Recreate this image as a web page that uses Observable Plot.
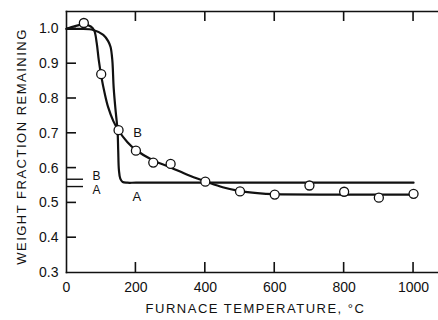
<!DOCTYPE html>
<html>
<head>
<meta charset="utf-8">
<script src="https://cdn.jsdelivr.net/npm/d3@7"></script>
<script src="https://cdn.jsdelivr.net/npm/@observablehq/plot@0.6"></script>
<style>
  html, body { margin: 0; padding: 0; background: #fff; }
  #chart svg { display: block; }
</style>
</head>
<body>
<div id="chart"></div>
<script>
// Curve A: stays near 1.0, then drops sharply to a plateau
const tempA = [0, 40, 77, 106, 120, 127, 132, 136, 142, 147, 149, 151, 155, 162, 175, 200, 400, 700, 1000];
const fracA = [1.0, 1.0, 0.997, 0.983, 0.965, 0.948, 0.91, 0.83, 0.76, 0.71, 0.65, 0.595, 0.57, 0.56, 0.558, 0.558, 0.558, 0.558, 0.558];

// Curve B: smooth fit through the measured points
const tempB = [0, 25, 50, 70, 80, 87, 93, 100, 110, 120, 135, 150, 175, 200, 250, 300, 350, 400, 450, 500, 550, 600, 800, 1000];
const fracB = [1.0, 1.008, 1.013, 1.007, 0.995, 0.96, 0.91, 0.865, 0.815, 0.775, 0.735, 0.708, 0.675, 0.652, 0.622, 0.602, 0.58, 0.562, 0.545, 0.534, 0.528, 0.525, 0.524, 0.524];

// Measured points (open circles)
const tempObs = [50, 100, 150, 200, 250, 300, 400, 500, 600, 700, 800, 900, 1000];
const fracObs = [1.017, 0.87, 0.709, 0.65, 0.616, 0.612, 0.561, 0.533, 0.524, 0.55, 0.532, 0.515, 0.526];

// Reference levels marked on the left axis
const refNames = ["B", "A"];
const refValues = [0.568, 0.547];

const xTicks = [0, 200, 400, 600, 800, 1000];
const xInnerTicks = [200, 400, 600, 800, 1000];
const yTicks = [0.3, 0.4, 0.5, 0.6, 0.7, 0.8, 0.9, 1.0];
const yInnerTicks = [0.4, 0.5, 0.6, 0.7, 0.8, 0.9, 1.0];

const xTitle = "FURNACE TEMPERATURE, °C";
const yTitle = "WEIGHT FRACTION REMAINING";

const curveA = tempA.map((t, i) => ({t, w: fracA[i]}));
const curveB = tempB.map((t, i) => ({t, w: fracB[i]}));
const observed = tempObs.map((t, i) => ({t, w: fracObs[i]}));
const refs = refNames.map((name, i) => ({name, w: refValues[i]}));

const width = 438, height = 320;
const margin = {left: 66, right: 1, top: 11, bottom: 48};
const frameW = width - margin.left - margin.right;
const xDomain = [0, 1069];
const yDomain = [0.3, 1.05];
const ink = "#111";
const tickLen = 10, refLen = 17;
const edgeStyle = {stroke: ink, strokeWidth: 1.6};

const chart = Plot.plot({
  width, height,
  marginLeft: margin.left, marginRight: margin.right,
  marginTop: margin.top, marginBottom: margin.bottom,
  style: {fontFamily: "'Liberation Sans', Arial, sans-serif", fontSize: "14px"},
  x: {domain: xDomain},
  y: {domain: yDomain},
  marks: [
    // box edges: top, bottom and left only
    Plot.frame({anchor: "top", ...edgeStyle}),
    Plot.frame({anchor: "bottom", ...edgeStyle}),
    Plot.frame({anchor: "left", ...edgeStyle}),
    // tick labels
    Plot.axisX(xTicks, {anchor: "bottom", tickSize: 0, tickPadding: 10, tickFormat: d => String(d), fill: ink, label: null}),
    Plot.axisY(yTicks, {anchor: "left", tickSize: 0, tickPadding: 8, tickFormat: d3.format(".1f"), fill: ink, label: null}),
    // reference levels on the left axis
    Plot.tickY(refs, {y: "w", insetRight: frameW - refLen, stroke: ink, strokeWidth: 1.4}),
    Plot.text(refs.filter(d => d.name === "B"), {frameAnchor: "left", y: "w", text: "name", dx: 26, dy: -3, fill: ink, fontSize: 12}),
    Plot.text(refs.filter(d => d.name === "A"), {frameAnchor: "left", y: "w", text: "name", dx: 26, dy: 4, fill: ink, fontSize: 12}),
    // curves
    Plot.line(curveA, {x: "t", y: "w", curve: "catmull-rom", stroke: ink, strokeWidth: 2.2}),
    Plot.line(curveB, {x: "t", y: "w", curve: "catmull-rom", stroke: ink, strokeWidth: 2.2}),
    Plot.dot(observed, {x: "t", y: "w", r: 4.5, fill: "#fff", stroke: ink, strokeWidth: 1.3}),
    // curve labels
    Plot.text(curveA.filter(d => d.t === 200), {x: "t", y: "w", text: () => "A", dx: 1, dy: 14, fill: ink, fontSize: 13}),
    Plot.text(observed.filter(d => d.t === 150), {x: "t", y: "w", text: () => "B", dx: 19, dy: 3, fill: ink, fontSize: 13}),
    // axis titles
    Plot.text([xTitle], {frameAnchor: "bottom", dx: 3.5, dy: 40, text: d => d, fill: ink, fontSize: 13}),
    Plot.text([yTitle], {frameAnchor: "left", dx: -45, dy: 4.5, rotate: -90, textAnchor: "middle", text: d => d, fill: ink, fontSize: 13})
  ]
});

// widen letter spacing of the two axis titles
d3.select(chart).selectAll("text")
  .filter(function() { return this.textContent === xTitle || this.textContent === yTitle; })
  .style("letter-spacing", "1.5px");

// inward ticks on bottom, top and left edges, placed with the plot's own scales
const sx = chart.scale("x"), sy = chart.scale("y");
const x0 = sx.apply(xDomain[0]);
const yBottom = sy.apply(yDomain[0]), yTop = sy.apply(yDomain[1]);
const tickLayer = d3.select(chart).append("g")
  .attr("aria-label", "inner ticks")
  .attr("stroke", ink).attr("stroke-width", 1.6).attr("stroke-linecap", "butt");
tickLayer.selectAll("line.b").data(xInnerTicks).join("line").attr("class", "b")
  .attr("x1", d => sx.apply(d)).attr("x2", d => sx.apply(d))
  .attr("y1", yBottom).attr("y2", yBottom - tickLen);
tickLayer.selectAll("line.t").data(xInnerTicks).join("line").attr("class", "t")
  .attr("x1", d => sx.apply(d)).attr("x2", d => sx.apply(d))
  .attr("y1", yTop).attr("y2", yTop + tickLen);
tickLayer.selectAll("line.l").data(yInnerTicks).join("line").attr("class", "l")
  .attr("x1", x0).attr("x2", x0 + tickLen)
  .attr("y1", d => sy.apply(d)).attr("y2", d => sy.apply(d));

document.getElementById("chart").appendChild(chart);
</script>
</body>
</html>
